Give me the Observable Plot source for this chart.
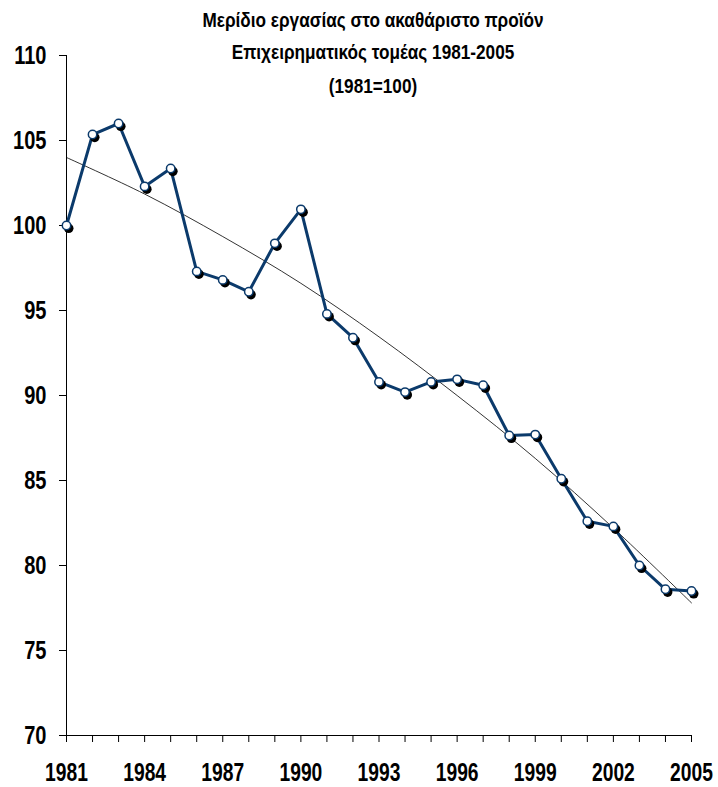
<!DOCTYPE html>
<html>
<head>
<meta charset="utf-8">
<script src="https://cdn.jsdelivr.net/npm/d3@7"></script>
<script src="https://cdn.jsdelivr.net/npm/@observablehq/plot@0.6"></script>
<style>
  html, body { margin: 0; padding: 0; background: #fff; }
  svg { display: block; }
</style>
</head>
<body>
<div id="chart"></div>
<script>
const years = [1981,1982,1983,1984,1985,1986,1987,1988,1989,1990,1991,1992,1993,1994,1995,1996,1997,1998,1999,2000,2001,2002,2003,2004,2005];
const values = [100.0,105.35,106.0,102.3,103.35,97.3,96.8,96.1,98.95,100.95,94.8,93.4,90.8,90.2,90.8,90.95,90.6,87.65,87.7,85.1,82.6,82.3,80.0,78.6,78.5];
const trendYears = [1981,1984,1987,1990,1993,1996,1999,2002,2005];
const trendValues = [104.0,101.85,99.35,96.6,93.45,90.0,86.3,82.2,77.8];
const xTickLabels = [1981,1984,1987,1990,1993,1996,1999,2002,2005];
const yTicks = [70,75,80,85,90,95,100,105,110];
const titleLines = ["Μερίδιο εργασίας στο ακαθάριστο προϊόν", "Επιχειρηματικός τομέας 1981-2005", "(1981=100)"];

const data = years.map((y, i) => ({year: y, value: values[i]}));
const trend = trendYears.map((y, i) => ({year: y, value: trendValues[i]}));
const font = "'Liberation Sans', Arial, sans-serif";
const navy = "#0b3a6b";

const plot = Plot.plot({
  width: 718,
  height: 787,
  marginLeft: 66,
  marginRight: 27,
  marginTop: 55,
  marginBottom: 52,
  style: {fontFamily: font, background: "#fff"},
  x: {domain: [1981, 2005]},
  y: {domain: [70, 110]},
  marks: [
    Plot.axisY({ticks: yTicks, tickSize: 7, tickPadding: 13, fontSize: 26, fontWeight: "bold", tickFormat: d => String(d), label: null, stroke: "#000", strokeWidth: 1, fill: "#000"}),
    Plot.axisX({ticks: years, tickSize: 7, tickFormat: () => "", label: null, stroke: "#000", strokeWidth: 1}),
    Plot.axisX({ticks: xTickLabels, tickSize: 0, tickPadding: 28, fontSize: 25, fontWeight: "bold", tickFormat: d => String(d), label: null, fill: "#000"}),
    Plot.ruleY([70], {stroke: "#000", strokeWidth: 1}),
    Plot.ruleX([1981], {stroke: "#000", strokeWidth: 1}),
    Plot.line(trend, {x: "year", y: "value", stroke: "#000", strokeWidth: 0.8, curve: "catmull-rom"}),
    Plot.line(data, {x: "year", y: "value", stroke: navy, strokeWidth: 3}),
    Plot.dot(data, {x: "year", y: "value", r: 4.8, fill: "#000", dx: 2.2, dy: 2.8}),
    Plot.dot(data, {x: "year", y: "value", r: 4.2, fill: "#fff", stroke: navy, strokeWidth: 1.5}),
    ...titleLines.map((t, i) => Plot.text([t], {text: d => d, frameAnchor: "top", dx: -6, dy: [-35, -3, 31][i], fontSize: 20, fontWeight: "bold", fill: "#000", lineAnchor: "middle"}))
  ]
});
// condense text horizontally to mimic a narrow typeface
plot.querySelectorAll("text").forEach(t => {
  const tr = t.getAttribute("transform") || "";
  const isTitle = titleLines.includes(t.textContent);
  t.setAttribute("transform", tr + (isTitle ? " scale(0.86,1)" : " scale(0.77,1)"));
});
document.getElementById("chart").appendChild(plot);
</script>
</body>
</html>
